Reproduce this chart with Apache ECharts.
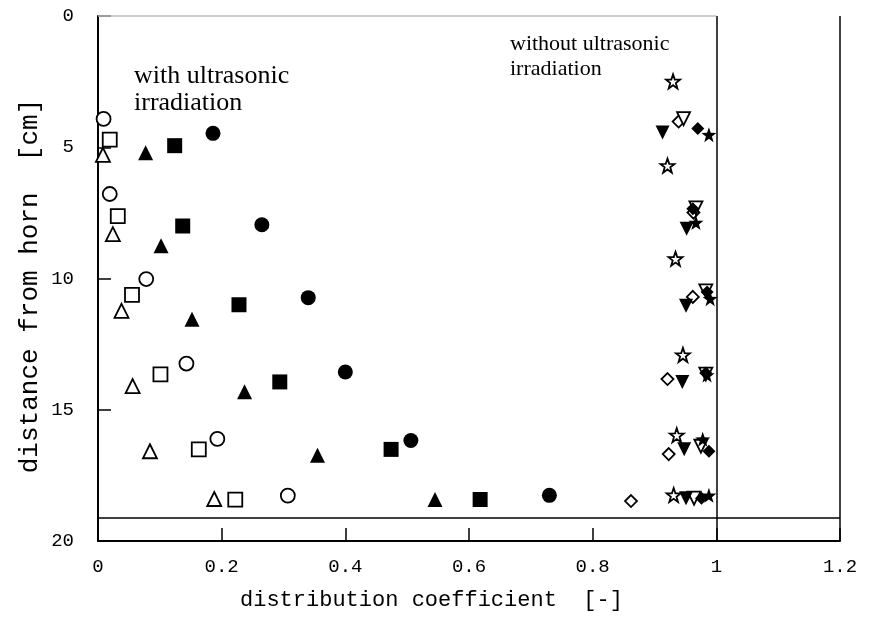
<!DOCTYPE html>
<html>
<head>
<meta charset="utf-8">
<script src="https://cdn.jsdelivr.net/npm/echarts@6/dist/echarts.min.js"></script>
<style>
html,body{margin:0;padding:0;background:#fff;}
#chart{width:872px;height:629px;}
</style>
</head>
<body>
<div id="chart"></div>
<script>
// ---- data: with ultrasonic irradiation ----
const openCircleX   = [0.009, 0.019, 0.078, 0.143, 0.193, 0.307];
const openCircleY   = [3.92, 6.78, 10.02, 13.24, 16.11, 18.27];
const openSquareX   = [0.019, 0.032, 0.055, 0.101, 0.163, 0.222];
const openSquareY   = [4.71, 7.62, 10.62, 13.65, 16.51, 18.42];
const openTriX      = [0.008, 0.024, 0.038, 0.056, 0.084, 0.188];
const openTriY      = [5.29, 8.31, 11.23, 14.10, 16.58, 18.40];
const fillTriX      = [0.077, 0.102, 0.152, 0.237, 0.355, 0.545];
const fillTriY      = [5.21, 8.75, 11.55, 14.31, 16.73, 18.42];
const fillSquareX   = [0.124, 0.137, 0.228, 0.294, 0.474, 0.618];
const fillSquareY   = [4.94, 8.00, 11.00, 13.94, 16.51, 18.42];
const fillCircleX   = [0.186, 0.265, 0.340, 0.400, 0.506, 0.730];
const fillCircleY   = [4.47, 7.95, 10.73, 13.56, 16.17, 18.26];
// ---- data: without ultrasonic irradiation ----
const openStarX     = [0.930, 0.921, 0.934, 0.946, 0.936, 0.931];
const openStarY     = [2.49, 5.70, 9.25, 12.91, 15.97, 18.25];
const openDiamondX  = [0.939, 0.963, 0.962, 0.921, 0.923, 0.862];
const openDiamondY  = [4.02, 7.49, 10.70, 13.83, 16.69, 18.48];
const openInvTriX   = [0.947, 0.967, 0.983, 0.983, 0.975, 0.964];
const openInvTriY   = [3.91, 7.31, 10.47, 13.64, 16.39, 18.37];
const fillInvTriX   = [0.913, 0.952, 0.951, 0.945, 0.948, 0.951];
const fillInvTriY   = [4.44, 8.10, 11.04, 13.94, 16.50, 18.37];
const fillDiamondX  = [0.970, 0.962, 0.985, 0.983, 0.988, 0.976];
const fillDiamondY  = [4.29, 7.34, 10.51, 13.60, 16.58, 18.37];
const fillStarX     = [0.988, 0.967, 0.990, 0.985, 0.978, 0.988];
const fillStarY     = [4.52, 7.87, 10.77, 13.68, 16.12, 18.26];
// ---- reference lines & ticks ----
const refLineX = 1.0;
const refLineY = 19.1;
const xMin = 0, xMax = 1.2, xStep = 0.2;
const yMin = 0, yMax = 20, yStep = 5;
const xTitle = 'distribution coefficient  [-]';
const yTitle = 'distance from horn  [cm]';
const noteWith = ['with ultrasonic', 'irradiation'];
const noteWithout = ['without ultrasonic', 'irradiation'];

const pair = (xs, ys) => xs.map((x, i) => [x, ys[i]]);
const STAR = 'path://M0,-10 L2.35,-3.24 L9.51,-3.09 L3.8,1.24 L5.88,8.09 L0,4 L-5.88,8.09 L-3.8,1.24 L-9.51,-3.09 L-2.35,-3.24 Z';
const INVTRI = 'path://M-10,-8.66 L10,-8.66 L0,8.66 Z';

function mk(name, xs, ys, symbol, size, filled) {
  return {
    name, type: 'scatter', data: pair(xs, ys), symbol, symbolSize: size,
    itemStyle: filled ? {color: '#000', borderColor: '#000', borderWidth: 0, opacity: 1}
                      : {color: '#fff', borderColor: '#000', borderWidth: 1.8, opacity: 1},
    emphasis: {disabled: true},
    z: 3
  };
}

const series = [
  mk('openCircle', openCircleX, openCircleY, 'circle', 14, false),
  mk('openSquare', openSquareX, openSquareY, 'rect', 14, false),
  mk('openTri', openTriX, openTriY, 'triangle', 14, false),
  mk('fillTri', fillTriX, fillTriY, 'triangle', 15, true),
  mk('fillSquare', fillSquareX, fillSquareY, 'rect', 15, true),
  mk('fillCircle', fillCircleX, fillCircleY, 'circle', 15, true),
  mk('openStar', openStarX, openStarY, STAR, 14, false),
  mk('openDiamond', openDiamondX, openDiamondY, 'diamond', 12, false),
  mk('openInvTri', openInvTriX, openInvTriY, INVTRI, 13, false),
  mk('fillInvTri', fillInvTriX, fillInvTriY, INVTRI, 14, true),
  mk('fillDiamond', fillDiamondX, fillDiamondY, 'diamond', 13, true),
  mk('fillStar', fillStarX, fillStarY, STAR, 15, true)
];
series.push({
  name: 'refs', type: 'scatter', data: [], z: 2,
  markLine: {
    silent: true, symbol: ['none', 'none'], animation: false,
    label: {show: false},
    lineStyle: {color: '#000', width: 1.5, type: 'solid', opacity: 1},
    data: [
      [{coord: [refLineX, yMin]}, {coord: [refLineX, yMax]}],
      [{coord: [xMin, refLineY]}, {coord: [xMax, refLineY]}],
      [{coord: [xMax, yMin]}, {coord: [xMax, yMax]}],
      [{coord: [xMin, yMin], lineStyle: {color: '#bbb', width: 1.5}}, {coord: [refLineX, yMin]}]
    ]
  }
});

const chart = echarts.init(document.getElementById('chart'), null, {renderer: 'canvas'});
const mono = '"Liberation Mono", "DejaVu Sans Mono", monospace';
const serif = '"Liberation Serif", "DejaVu Serif", serif';
chart.setOption({
  animation: false,
  backgroundColor: '#fff',
  grid: {left: 98, top: 16, right: 32, bottom: 88, show: false},
  xAxis: {
    type: 'value', min: xMin, max: xMax, interval: xStep,
    axisLine: {show: true, onZero: false, lineStyle: {color: '#000', width: 2}},
    axisTick: {show: true, inside: true, length: 13, lineStyle: {color: '#000', width: 1.5}},
    axisLabel: {color: '#000', fontFamily: mono, fontSize: 19, margin: 16,
      formatter: v => String(+v.toFixed(1))},
    splitLine: {show: false}
  },
  yAxis: {
    type: 'value', min: yMin, max: yMax, interval: yStep, inverse: true,
    axisLine: {show: true, onZero: false, lineStyle: {color: '#000', width: 2}},
    axisTick: {show: true, inside: true, length: 13, lineStyle: {color: '#000', width: 1.5}},
    axisLabel: {color: '#000', fontFamily: mono, fontSize: 19, margin: 24},
    splitLine: {show: false}
  },
  series,
  graphic: [
    {type: 'text', left: 240, top: 589, style: {text: xTitle, font: '22px ' + mono, fill: '#000'}},
    {type: 'text', x: 30, y: 286, rotation: Math.PI / 2,
      style: {text: yTitle, font: '26px ' + mono, fill: '#000', textAlign: 'center', textVerticalAlign: 'middle'}},
    {type: 'text', left: 134, top: 63, style: {text: noteWith.join('\n'), font: '26px ' + serif, lineHeight: 27, fill: '#000'}},
    {type: 'text', left: 510, top: 32, style: {text: noteWithout.join('\n'), font: '22px ' + serif, lineHeight: 25, fill: '#000'}}
  ]
});
</script>
</body>
</html>
